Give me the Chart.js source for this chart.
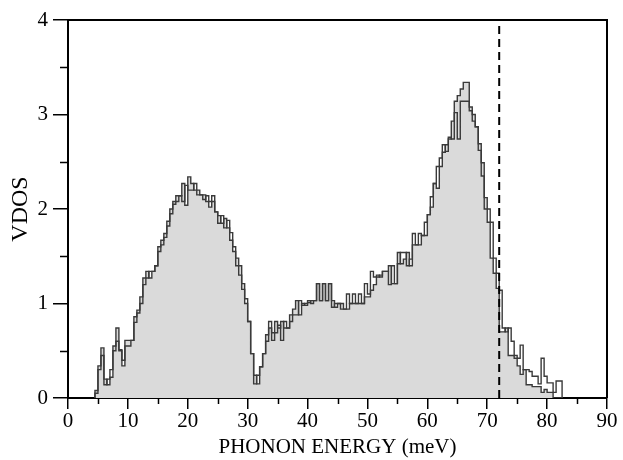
<!DOCTYPE html>
<html>
<head>
<meta charset="utf-8">
<script src="https://cdn.jsdelivr.net/npm/chart.js@4"></script>
<style>
  html, body { margin: 0; padding: 0; background: #fff; }
  #wrap { width: 623px; height: 460px; }
</style>
</head>
<body>
<div id="wrap"><canvas id="myChart" width="623" height="460"></canvas></div>
<script>
// histogram bins: left edge of first bin and bin width (meV)
const binStart = 4.5;
const binWidth = 0.5;

// filled VDOS (one bin per 0.5 meV, starting at 4.5 meV)
const vdosFilled = [
  0.08, 0.34, 0.53, 0.20, 0.14, 0.22, 0.55, 0.74, 0.50, 0.34,
  0.61, 0.61, 0.61, 0.86, 0.93, 1.07, 1.27, 1.34, 1.27, 1.34,
  1.40, 1.60, 1.67, 1.74, 1.87, 2.00, 2.08, 2.14, 2.14, 2.27,
  2.04, 2.34, 2.27, 2.20, 2.20, 2.15, 2.15, 2.08, 2.02, 2.08,
  1.97, 1.93, 1.85, 1.90, 1.80, 1.67, 1.55, 1.48, 1.40, 1.21,
  1.00, 0.81, 0.47, 0.24, 0.15, 0.33, 0.47, 0.67, 0.74, 0.69,
  0.81, 0.74, 0.81, 0.74, 0.74, 0.88, 0.94, 1.03, 0.88, 1.00,
  0.98, 1.01, 1.03, 1.03, 1.21, 1.03, 1.21, 1.03, 1.21, 1.03,
  0.96, 1.00, 1.00, 0.94, 0.94, 1.00, 1.00, 1.00, 1.00, 1.00,
  1.07, 1.07, 1.14, 1.20, 1.28, 1.30, 1.34, 1.34, 1.40, 1.21,
  1.21, 1.54, 1.42, 1.47, 1.54, 1.40, 1.62, 1.62, 1.62, 1.72,
  1.72, 1.94, 2.02, 2.27, 2.22, 2.45, 2.60, 2.68, 2.74, 2.93,
  3.14, 3.20, 3.27, 3.34, 3.34, 3.08, 3.00, 2.87, 2.69, 2.49,
  2.12, 1.86, 1.48, 1.32, 1.16, 0.70, 0.70, 0.74, 0.45, 0.45,
  0.42, 0.34, 0.25, 0.30, 0.14, 0.14, 0.12, 0.12, 0.12, 0.06,
  0.09, 0.06, 0.06, 0.00, 0.00, 0.00
];

// second VDOS, outline only
const vdosOutline = [
  0.05, 0.30, 0.45, 0.14, 0.20, 0.30, 0.50, 0.60, 0.51, 0.40,
  0.55, 0.55, 0.61, 0.80, 0.90, 1.00, 1.20, 1.27, 1.34, 1.34,
  1.40, 1.55, 1.62, 1.70, 1.82, 1.95, 2.05, 2.08, 2.14, 2.08,
  2.25, 2.20, 2.20, 2.27, 2.15, 2.15, 2.10, 2.14, 2.08, 2.14,
  1.97, 1.85, 1.93, 1.80, 1.88, 1.75, 1.60, 1.40, 1.30, 1.15,
  1.05, 0.81, 0.47, 0.15, 0.24, 0.33, 0.47, 0.60, 0.81, 0.61,
  0.69, 0.77, 0.61, 0.81, 0.74, 0.81, 0.88, 0.88, 1.03, 0.98,
  1.00, 1.03, 1.00, 1.03, 1.21, 1.03, 1.21, 1.03, 1.21, 0.96,
  1.00, 1.00, 0.94, 0.94, 1.10, 1.00, 1.10, 1.00, 1.10, 1.00,
  1.21, 1.10, 1.34, 1.28, 1.30, 1.28, 1.34, 1.34, 1.20, 1.40,
  1.21, 1.42, 1.54, 1.54, 1.40, 1.47, 1.74, 1.62, 1.74, 1.72,
  1.86, 1.94, 2.13, 2.27, 2.45, 2.54, 2.68, 2.61, 2.76, 2.74,
  3.02, 2.74, 3.14, 3.14, 3.14, 3.04, 2.93, 2.87, 2.62, 2.35,
  2.00, 2.00, 1.86, 1.48, 1.32, 1.14, 0.74, 0.70, 0.74, 0.60,
  0.45, 0.42, 0.56, 0.30, 0.30, 0.28, 0.23, 0.23, 0.15, 0.42,
  0.23, 0.16, 0.16, 0.06, 0.18, 0.18
];

// cutoff energy marked with a dashed line
const cutoffEnergy = 72;

const xTicks = [0, 10, 20, 30, 40, 50, 60, 70, 80, 90];
const yTicks = [0, 1, 2, 3, 4];

const serif = '"Liberation Serif", "Times New Roman", serif';

// turn bin values into step points (left edges) closed back to zero
const toSteps = values => {
  const pts = [{ x: binStart, y: 0 }];
  values.forEach((v, i) => pts.push({ x: binStart + i * binWidth, y: v }));
  pts.push({ x: binStart + values.length * binWidth, y: 0 });
  return pts;
};

// box, minor ticks and the dashed cutoff line
const decorations = {
  id: 'decorations',
  afterDraw(chart) {
    const { ctx, chartArea: a, scales: { x, y } } = chart;
    ctx.save();
    ctx.strokeStyle = '#000';
    ctx.lineWidth = 2;
    ctx.beginPath();
    ctx.moveTo(a.left, a.top);
    ctx.lineTo(a.right, a.top);
    ctx.lineTo(a.right, a.bottom);
    ctx.stroke();

    ctx.lineWidth = 1.5;
    ctx.beginPath();
    for (let v = 5; v < 90; v += 10) {
      const px = Math.round(x.getPixelForValue(v)) + 0.5;
      ctx.moveTo(px, a.bottom);
      ctx.lineTo(px, a.bottom + 6);
    }
    for (let v = 0.5; v < 4; v += 1) {
      const py = Math.round(y.getPixelForValue(v)) + 0.5;
      ctx.moveTo(a.left, py);
      ctx.lineTo(a.left - 8, py);
    }
    ctx.stroke();

    const cx = x.getPixelForValue(cutoffEnergy);
    ctx.lineWidth = 2;
    ctx.setLineDash([8, 5]);
    ctx.beginPath();
    ctx.moveTo(cx, a.bottom);
    ctx.lineTo(cx, a.top);
    ctx.stroke();
    ctx.restore();
  }
};

const ctx = document.getElementById('myChart');

new Chart(ctx, {
  type: 'line',
  data: {
    datasets: [
      {
        label: 'VDOS',
        data: toSteps(vdosFilled),
        stepped: 'before',
        fill: 'origin',
        backgroundColor: '#dadada',
        borderColor: '#3a3a3a',
        borderWidth: 1.4,
        pointRadius: 0,
        order: 2
      },
      {
        label: 'VDOS (2)',
        data: toSteps(vdosOutline),
        stepped: 'before',
        fill: false,
        borderColor: '#3a3a3a',
        borderWidth: 1.4,
        pointRadius: 0,
        order: 1
      }
    ]
  },
  options: {
    responsive: false,
    animation: false,
    layout: {
      padding: { top: 20, right: 16, left: 0, bottom: 0 }
    },
    plugins: {
      legend: { display: false },
      tooltip: { enabled: false }
    },
    scales: {
      x: {
        type: 'linear',
        min: 0,
        max: 90,
        afterFit: s => { s.height = 62; },
        afterBuildTicks: s => { s.ticks = xTicks.map(v => ({ value: v })); },
        ticks: {
          color: '#000',
          padding: 0,
          maxRotation: 0,
          font: { family: serif, size: 21 }
        },
        grid: {
          drawOnChartArea: false,
          color: '#000',
          lineWidth: 1.5,
          tickLength: 11
        },
        border: { color: '#000', width: 2 },
        title: {
          display: true,
          text: 'PHONON ENERGY (meV)',
          color: '#000',
          padding: { top: -6, bottom: 0 },
          font: { family: serif, size: 21 }
        }
      },
      y: {
        type: 'linear',
        min: 0,
        max: 4,
        afterFit: s => { s.width = 68; },
        afterBuildTicks: s => { s.ticks = yTicks.map(v => ({ value: v })); },
        ticks: {
          color: '#000',
          padding: 5,
          font: { family: serif, size: 21 }
        },
        grid: {
          drawOnChartArea: false,
          color: '#000',
          lineWidth: 1.5,
          tickLength: 15
        },
        border: { color: '#000', width: 2 },
        title: {
          display: true,
          text: 'VDOS',
          color: '#000',
          padding: { top: 6, bottom: 0 },
          font: { family: serif, size: 24 }
        }
      }
    }
  },
  plugins: [decorations]
});
</script>
</body>
</html>
